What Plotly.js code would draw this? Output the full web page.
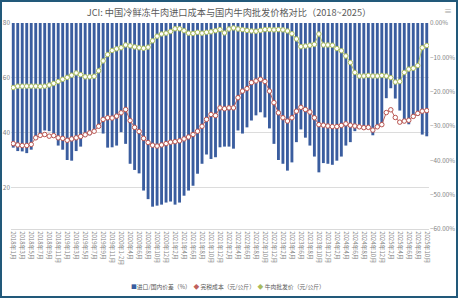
<!DOCTYPE html>
<html>
<head>
<meta charset="utf-8">
<script src="https://cdn.plot.ly/plotly-3.0.1.min.js"></script>
<style>
  html, body { margin: 0; padding: 0; background: #ffffff; }
  #frame { width: 458px; height: 298px; box-sizing: border-box; border: 2px solid #22597a; overflow: hidden; }
  #chart { width: 454px; height: 294px; }
</style>
</head>
<body>
<div id="frame"><div id="chart"></div></div>
<script>
// ---- categories (monthly; 2020 Jan-Feb combined) ----
const categories = [
  "2018年1月","2018年2月","2018年3月","2018年4月","2018年5月","2018年6月","2018年7月","2018年8月","2018年9月","2018年10月","2018年11月","2018年12月",
  "2019年1月","2019年2月","2019年3月","2019年4月","2019年5月","2019年6月","2019年7月","2019年8月","2019年9月","2019年10月","2019年11月","2019年12月",
  "2020年1-2月","2020年3月","2020年4月","2020年5月","2020年6月","2020年7月","2020年8月","2020年9月","2020年10月","2020年11月","2020年12月",
  "2021年1月","2021年2月","2021年3月","2021年4月","2021年5月","2021年6月","2021年7月","2021年8月","2021年9月","2021年10月","2021年11月","2021年12月",
  "2022年1月","2022年2月","2022年3月","2022年4月","2022年5月","2022年6月","2022年7月","2022年8月","2022年9月","2022年10月","2022年11月","2022年12月",
  "2023年1月","2023年2月","2023年3月","2023年4月","2023年5月","2023年6月","2023年7月","2023年8月","2023年9月","2023年10月","2023年11月","2023年12月",
  "2024年1月","2024年2月","2024年3月","2024年4月","2024年5月","2024年6月","2024年7月","2024年8月","2024年9月","2024年10月","2024年11月","2024年12月",
  "2025年1月","2025年2月","2025年3月","2025年4月","2025年5月","2025年6月","2025年7月","2025年8月","2025年9月","2025年10月"
];

// 进口/国内价差 (%) - right axis
const priceGap = [
  -36.3,-37.3,-37.4,-37.9,-36.9,-33.6,-32.2,-31.3,-31.5,-32.2,
  -35.7,-36.9,-39.9,-40.1,-37.3,-36.0,-33.2,-32.7,-31.5,-30.5,
  -32.2,-36.3,-36.2,-35.7,-31.8,-35.2,-41.0,-42.8,-43.8,-48.8,
  -51.3,-53.5,-53.2,-52.9,-52.3,-52.0,-52.9,-52.3,-50.3,-48.8,
  -47.4,-43.9,-41.0,-38.3,-39.6,-39.1,-36.2,-36.0,-36.0,-36.6,
  -31.3,-32.2,-30.4,-28.4,-26.9,-26.0,-27.5,-30.7,-35.2,-39.9,
  -41.0,-43.0,-40.6,-34.7,-31.0,-33.4,-35.7,-38.9,-43.5,-40.8,
  -41.0,-41.3,-40.1,-38.9,-35.7,-34.7,-31.5,-30.5,-31.0,-30.8,
  -32.7,-30.5,-29.5,-21.9,-19.0,-22.0,-25.5,-28.5,-29.5,-27.5,
  -27.0,-32.5,-33.0
];

// 完税成本 (元/公斤) - left axis
const dutyPaidCost = [
  36.1,35.6,35.4,35.4,35.8,38.2,39.1,39.4,38.8,39.0,
  38.2,38.0,37.3,37.8,38.2,38.7,39.3,40.0,40.6,42.4,
  44.9,45.5,45.4,46.1,47.3,48.5,44.5,42.0,40.5,38.0,
  36.5,35.5,35.2,35.6,36.1,36.6,36.8,37.1,37.8,38.5,
  39.4,40.6,42.4,44.9,46.7,46.3,49.1,48.8,49.1,49.1,
  52.8,55.2,56.1,58.3,58.9,59.5,58.7,55.2,51.0,47.3,
  45.5,44.3,45.5,47.9,49.3,48.5,47.6,45.5,43.0,42.8,
  42.5,42.3,42.3,42.7,43.3,42.8,42.5,42.2,41.9,42.0,
  41.0,42.2,43.0,47.4,48.4,45.6,43.9,44.3,44.6,46.0,
  47.1,47.9,48.1
];

// 牛肉批发价 (元/公斤) - left axis
const wholesalePrice = [
  56.5,57.0,57.0,57.0,57.0,57.0,56.9,57.0,57.4,58.0,
  58.7,59.5,60.2,61.0,61.8,61.2,60.4,60.4,60.6,62.6,
  66.2,68.5,70.0,70.6,71.0,72.0,71.7,71.3,71.0,70.8,
  71.2,73.5,75.2,76.0,76.3,76.9,77.9,77.9,77.2,76.3,
  76.2,76.6,76.3,76.6,76.8,77.2,77.6,76.4,77.8,78.2,
  77.8,77.6,77.3,77.1,77.0,77.3,77.6,77.6,77.5,77.6,
  77.5,77.1,76.1,74.2,71.4,71.6,71.9,72.2,76.0,72.0,
  72.0,71.9,70.7,69.9,68.0,65.6,62.0,60.7,60.7,60.9,
  60.7,60.7,60.9,60.7,60.1,58.5,58.7,62.0,63.2,63.5,
  64.5,71.0,71.8
];

const seriesNames = ["进口/国内价差（%）", "完税成本（元/公斤）", "牛肉批发价（元/公斤）"];
const seriesColors = ["#3a5d9f", "#c0615c", "#a9bb5c"];
const leftTicks = [20, 40, 60, 80];
const shownLabels = categories.filter((c, i) => i % 2 === 0);

const gray = "#7f7f7f";
const cjk = '"Noto Sans CJK SC", "Noto Sans", sans-serif';

const traces = [
  {
    type: "bar", name: seriesNames[0], x: categories, y: priceGap, yaxis: "y",
    marker: { color: seriesColors[0], line: { width: 0 } }, hoverinfo: "skip", showlegend: false
  },
  {
    type: "scatter", mode: "lines+markers", name: seriesNames[1], x: categories, y: dutyPaidCost, yaxis: "y2",
    line: { color: seriesColors[1], width: 1 },
    marker: { symbol: "circle", size: 4.5, color: "#ffffff", line: { color: "#b9544f", width: 1 } },
    hoverinfo: "skip", showlegend: false
  },
  {
    type: "scatter", mode: "lines+markers", name: seriesNames[2], x: categories, y: wholesalePrice, yaxis: "y2",
    line: { color: "#b4c46a", width: 1 },
    marker: { symbol: "circle", size: 4.5, color: "#ffffff", line: { color: seriesColors[2], width: 1 } },
    hoverinfo: "skip", showlegend: false
  }
];

// compact legend (as in the reference) drawn as one text line
const legendText =
  '<span style="color:' + seriesColors[0] + '">■</span>' + seriesNames[0] + '  ' +
  '<span style="color:' + seriesColors[1] + '">◆</span> ' + seriesNames[1] + '  ' +
  '<span style="color:' + seriesColors[2] + '">◆</span> ' + seriesNames[2];

const layout = {
  width: 454, height: 294,
  margin: { l: 9, r: 27, t: 21, b: 67, pad: 0 },
  paper_bgcolor: "#ffffff", plot_bgcolor: "#ffffff",
  font: { family: cjk, color: gray, size: 7 },
  showlegend: false,
  title: {
    text: "JCI: 中国冷鲜冻牛肉进口成本与国内牛肉批发价格对比（2018~2025）",
    font: { family: cjk, size: 9.2, color: "#595959" },
    x: 0.5, xref: "container", xanchor: "center",
    y: 0.962, yref: "container", yanchor: "middle"
  },
  bargap: 0.36,
  xaxis: {
    type: "category", range: [-0.5, categories.length - 0.5],
    tickmode: "array", tickvals: shownLabels, ticktext: shownLabels,
    tickangle: 90, tickfont: { size: 6, color: gray, family: cjk },
    showline: true, linecolor: "#d9d9d9", linewidth: 1,
    ticks: "", showgrid: false, zeroline: false, fixedrange: true
  },
  yaxis: {
    side: "right", range: [-60, 0], tick0: 0, dtick: 10,
    tickformat: ".2f", ticksuffix: "%",
    tickfont: { size: 6.3, color: gray, family: cjk },
    showgrid: false, zeroline: false, showline: false, ticks: "", fixedrange: true
  },
  yaxis2: {
    overlaying: "y", side: "left", range: [5, 80],
    tickmode: "array", tickvals: leftTicks,
    tickfont: { size: 6.5, color: gray, family: cjk },
    showgrid: true, gridcolor: "#dcdcdc", gridwidth: 1,
    zeroline: false, showline: false, ticks: "", fixedrange: true
  },
  annotations: [
    { text: legendText, xref: "paper", yref: "paper", x: 0.5185, y: -0.277,
      xanchor: "center", yanchor: "middle", showarrow: false,
      font: { size: 5.8, color: "#595959", family: cjk } },
    { text: "≡", xref: "paper", yref: "paper", x: 1.045, y: 1.062, showarrow: false,
      font: { size: 8, color: "#a6a6a6" }, xanchor: "center", yanchor: "middle" }
  ]
};

Plotly.newPlot("chart", traces, layout, { displayModeBar: false, staticPlot: true });
</script>
</body>
</html>
